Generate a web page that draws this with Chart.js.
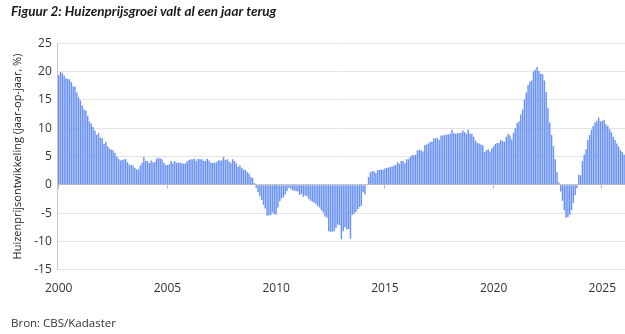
<!DOCTYPE html>
<html>
<head>
<meta charset="utf-8">
<title>Huizenprijsgroei</title>
<script src="https://cdn.jsdelivr.net/npm/chart.js"></script>
<style>
  html, body { margin: 0; padding: 0; background: #fff; }
  #wrap { width: 625px; height: 334px; }
</style>
</head>
<body>
<div id="wrap"><canvas id="prijsChart" width="625" height="334"></canvas></div>
<script>
// Prijsontwikkeling bestaande koopwoningen, jaar-op-jaar in %, per maand vanaf januari 2000
const startYear = 2000;
const yoyGrowth = [
  19.4, 19.9, 19.7, 19.3, 18.8, 18.7, 18.6, 18.1, 17.4, 17.3, 16.3, 15.4,   // 2000
  14.9, 14.0, 13.3, 13.1, 12.2, 11.2, 10.8, 10.2, 9.6, 8.8, 9.1, 8.3,       // 2001
  8.2, 7.2, 7.6, 6.8, 6.4, 6.2, 6.1, 5.6, 5.0, 4.6, 4.3, 4.4,               // 2002
  4.5, 4.5, 4.0, 3.6, 3.5, 3.4, 3.0, 2.7, 2.7, 3.4, 3.9, 4.9,               // 2003
  4.2, 4.2, 3.8, 4.3, 4.0, 4.0, 4.6, 4.8, 4.7, 4.5, 3.9, 3.5,               // 2004
  3.5, 3.6, 4.2, 3.8, 4.2, 3.9, 3.9, 3.9, 3.8, 3.7, 3.8, 4.2,               // 2005
  4.4, 4.5, 4.5, 4.6, 4.2, 4.6, 4.5, 4.5, 4.2, 4.2, 4.6, 4.3,               // 2006
  3.9, 3.9, 3.9, 4.0, 4.3, 4.3, 4.3, 4.9, 4.4, 4.5, 4.1, 3.9,               // 2007
  4.5, 4.2, 3.8, 3.2, 3.4, 3.0, 2.7, 2.6, 2.3, 2.0, 1.4, 1.2,               // 2008
  0.3, -0.5, -1.3, -2.0, -2.7, -3.5, -4.2, -5.4, -5.4, -5.3, -4.9, -5.2,    // 2009
  -5.3, -4.0, -2.9, -2.4, -2.2, -1.7, -1.1, -0.5, -0.7, -1.0, -1.0, -1.1,   // 2010
  -1.2, -1.8, -1.6, -2.1, -1.9, -2.0, -2.5, -2.8, -3.0, -3.1, -3.4, -3.8,   // 2011
  -4.0, -4.5, -4.9, -5.6, -5.8, -8.2, -8.3, -8.3, -8.2, -7.6, -7.0, -7.1,   // 2012
  -9.6, -8.2, -7.5, -7.9, -7.8, -9.5, -5.3, -5.1, -4.8, -4.3, -3.9, -3.7,   // 2013
  -1.3, -1.7, -0.1, 1.4, 2.2, 2.4, 2.4, 2.1, 2.6, 2.6, 2.7, 2.7,            // 2014
  2.9, 3.0, 3.0, 3.2, 3.2, 3.4, 3.5, 4.0, 3.7, 4.2, 4.2, 3.8,               // 2015
  4.5, 4.5, 4.9, 5.2, 5.2, 5.3, 6.1, 6.2, 6.1, 5.9, 7.0, 7.1,               // 2016
  7.3, 7.6, 7.6, 8.2, 8.2, 8.2, 7.9, 8.7, 8.7, 8.8, 8.9, 8.9,               // 2017
  9.0, 9.7, 9.1, 9.0, 9.1, 9.1, 9.2, 9.6, 9.3, 9.0, 9.7, 9.0,               // 2018
  9.0, 8.5, 7.8, 7.4, 7.3, 7.1, 7.0, 5.8, 6.1, 6.3, 5.9, 6.4,               // 2019
  6.8, 7.2, 7.4, 7.4, 7.9, 7.7, 7.6, 8.5, 9.0, 8.7, 8.0, 9.2,               // 2020
  10.0, 10.9, 11.2, 12.4, 13.3, 15.0, 16.3, 17.6, 18.2, 18.4, 20.0, 20.3,   // 2021
  20.8, 20.1, 19.6, 19.5, 18.4, 16.4, 13.5, 11.0, 8.8, 6.8, 4.5, 2.2,       // 2022
  0.4, -1.2, -2.8, -4.5, -5.8, -5.7, -5.3, -4.5, -3.2, -1.8, -0.6, 1.8,     // 2023
  1.7, 4.2, 5.3, 6.3, 7.9, 8.8, 9.7, 10.4, 11.0, 11.3, 11.9, 11.2,          // 2024
  11.3, 11.5, 10.7, 10.4, 9.8, 9.3, 8.5, 7.9, 7.3, 6.7, 6.1, 5.8,           // 2025
  5.3                                                                       // 2026
];
const tickYears = [2000, 2005, 2010, 2015, 2020, 2025];
const yMin = -15;
const yMax = 25;
const yStep = 5;

const months = yoyGrowth.map((_, i) =>
  (startYear + Math.floor(i / 12)) + '-' + String(i % 12 + 1).padStart(2, '0'));

function yearTick(label) {
  const y = Number(label.slice(0, 4));
  return label.endsWith('-01') && tickYears.includes(y) ? String(y) : null;
}

// kleine streepjes op de nullijn bij de jaartallen
const zeroTicks = {
  id: 'zeroTicks',
  beforeDatasetsDraw(chart) {
    const { ctx, scales: { x, y } } = chart;
    const y0 = y.getPixelForValue(0);
    ctx.save();
    ctx.strokeStyle = '#bdbdbd';
    ctx.lineWidth = 1;
    months.forEach((m, i) => {
      if (!yearTick(m)) return;
      const px = Math.round(x.getPixelForValue(i) - x.width / months.length / 2) + 0.5;
      ctx.beginPath();
      ctx.moveTo(px, y0);
      ctx.lineTo(px, y0 + 4);
      ctx.stroke();
    });
    ctx.restore();
  }
};

Chart.defaults.font.family = "'Open Sans', 'Noto Sans', sans-serif";
Chart.defaults.color = '#333';

const ctx = document.getElementById('prijsChart').getContext('2d');
new Chart(ctx, {
  type: 'bar',
  data: {
    labels: months,
    datasets: [{
      label: 'Huizenprijsontwikkeling',
      data: yoyGrowth,
      backgroundColor: '#6a92f4',
      borderWidth: 0,
      barPercentage: 0.8,
      categoryPercentage: 1.0
    }]
  },
  options: {
    responsive: false,
    animation: false,
    layout: { padding: { left: 11, right: 0, top: 0, bottom: 0 } },
    plugins: {
      legend: { display: false },
      tooltip: { enabled: false },
      title: {
        display: true,
        text: 'Figuur 2: Huizenprijsgroei valt al een jaar terug',
        align: 'start',
        color: '#1a1a1a',
        font: { family: "Lato, 'Open Sans', sans-serif", size: 13.5, style: 'italic', weight: 'bold' },
        padding: { top: 4, bottom: 23 }
      },
      subtitle: {
        display: true,
        position: 'bottom',
        align: 'start',
        text: 'Bron: CBS/Kadaster',
        color: '#333',
        font: { size: 11.5 },
        padding: { top: 17, bottom: 3 }
      }
    },
    scales: {
      x: {
        grid: { display: false },
        border: { display: false },
        ticks: {
          autoSkip: false,
          maxRotation: 0,
          padding: 4,
          font: { size: 12 },
          callback: function(value) { return yearTick(this.getLabelForValue(value)); }
        }
      },
      y: {
        min: yMin,
        max: yMax,
        ticks: { stepSize: yStep, padding: 6, font: { size: 12 } },
        grid: {
          drawTicks: false,
          color: c => c.tick.value === 0 ? '#c4c4c4' : '#e4e4e4'
        },
        border: { color: '#c8c8c8' },
        title: {
          display: true,
          text: 'Huizenprijsontwikkeling (jaar-op-jaar, %)',
          color: '#222',
          font: { size: 11 },
          padding: { top: 0, bottom: 4 }
        }
      }
    }
  },
  plugins: [zeroTicks]
});
</script>
</body>
</html>
